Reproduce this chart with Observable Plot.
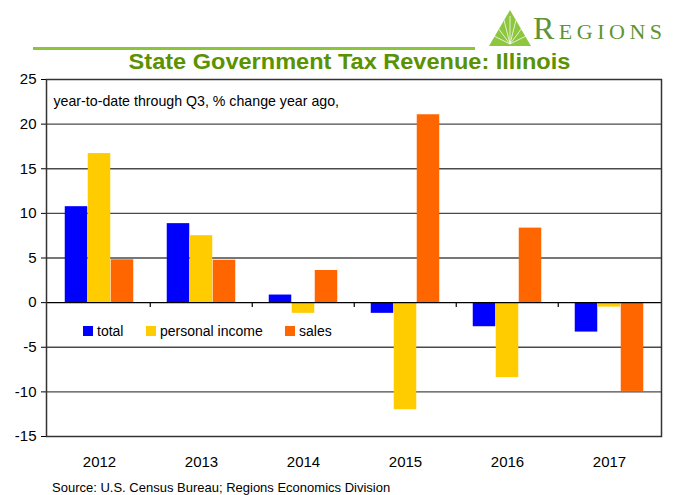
<!DOCTYPE html>
<html>
<head>
<meta charset="utf-8">
<script src="https://cdn.jsdelivr.net/npm/d3@7"></script>
<script src="https://cdn.jsdelivr.net/npm/@observablehq/plot@0.6"></script>
<style>
  html, body { margin: 0; padding: 0; background: #fff; }
  body { width: 681px; height: 495px; position: relative; overflow: hidden; font-family: "Liberation Sans", Arial, sans-serif; }
  .abs { position: absolute; }
  #rule { left: 33px; top: 47px; width: 442px; height: 3px; background: #8cc43c; }
  #logo-text { left: 533px; top: 10px; font-family: "Liberation Serif", serif; font-size: 32px; font-variant: small-caps; color: #5e9435; letter-spacing: 4.5px; line-height: 36px; }
  #title { left: 9px; top: 50px; width: 681px; text-align: center; font-size: 22px; font-weight: bold; color: #5a9200; line-height: 24px; transform: scaleX(1.07); transform-origin: 341px 0; z-index: 2; }
  #chart { left: 0; top: 60px; z-index: 1; }
  #legend { left: 83px; top: 322px; font-size: 14px; color: #000; line-height: 18px; white-space: nowrap; z-index: 3; }
  #legend span.item { position: absolute; top: 0; }
  #legend span.sw { position: absolute; top: 4px; width: 10px; height: 10px; }
  #source { left: 52px; top: 480px; font-size: 13px; color: #000; line-height: 16px; }
</style>
</head>
<body>
<div id="rule" class="abs"></div>
<svg class="abs" style="left:489px;top:10px" width="42" height="36" viewBox="0 0 42 36">
  <polygon points="21,0 42,36 0,36" fill="#8dc63f"/>
  <path d="M21 34 L21 6 M21 34 L15 10 M21 34 L27 10 M21 34 L9 18 M21 34 L33 18 M21 34 L5 26 M21 34 L37 26" stroke="#fff" stroke-width="1" fill="none" opacity="0.75"/>
</svg>
<div id="logo-text" class="abs">Regions</div>
<div id="chart" class="abs"></div>
<div id="title" class="abs">State Government Tax Revenue: Illinois</div>
<div id="legend" class="abs"></div>
<div id="source" class="abs">Source: U.S. Census Bureau; Regions Economics Division</div>
<script>
const years = ["2012", "2013", "2014", "2015", "2016", "2017"];
const seriesNames = ["total", "personal income", "sales"];
const seriesColors = ["#0000ff", "#ffcc00", "#ff6600"];
const totalValues = [10.75, 8.85, 0.85, -1.2, -2.7, -3.3];
const personalIncomeValues = [16.7, 7.5, -1.2, -12.0, -8.4, -0.5];
const salesValues = [4.8, 4.75, 3.6, 21.05, 8.35, -9.95];
const yTicks = [-15, -10, -5, 0, 5, 10, 15, 20, 25];

const W = 681, H = 412, mL = 46, mR = 20, mT = 19, mB = 36;
const bw = (W - mL - mR) / years.length;
const barW = 23;
const gap0 = (bw - 3 * barW) / 2;

const seriesValues = [totalValues, personalIncomeValues, salesValues];
const barMarks = seriesValues.map((vals, i) =>
  Plot.barY(years.map((y, j) => ({year: y, value: vals[j]})), {
    x: "year", y: "value", fill: seriesColors[i],
    insetLeft: gap0 + i * barW,
    insetRight: bw - gap0 - (i + 1) * barW
  })
);

const chart = Plot.plot({
  width: W, height: H,
  marginLeft: mL, marginRight: mR, marginTop: mT, marginBottom: mB,
  style: {fontFamily: "'Liberation Sans', Arial, sans-serif", fontSize: "15px", color: "#000", background: "transparent"},
  x: {type: "band", domain: years, padding: 0, label: null, tickSize: 0, tickPadding: 20},
  y: {domain: [-15, 25], ticks: yTicks, label: null, tickSize: 5, tickPadding: 5, tickFormat: d => String(d)},
  marks: [
    Plot.ruleY(yTicks.filter(d => d !== 0 && d !== 25 && d !== -15), {stroke: "#4a4a4a", strokeWidth: 1.3}),
    ...barMarks,
    Plot.ruleY([0], {stroke: "#000", strokeWidth: 1.3}),
    Plot.ruleX(years.slice(1), {x: d => d, y1: 0, y2: -0.55, dx: -bw / 2, stroke: "#000", strokeWidth: 1.2}),
    Plot.frame({stroke: "#333", strokeWidth: 1.5}),
    Plot.text(["year-to-date through Q3, % change year ago,"], {
      frameAnchor: "top-left", dx: 7, dy: 16, text: d => d,
      fontSize: 14.2, fill: "#000", textAnchor: "start"
    })
  ]
});
document.getElementById("chart").appendChild(chart);

// legend (HTML)
const legendOffsets = [0, 63, 202];
const legend = document.getElementById("legend");
seriesNames.forEach((name, i) => {
  const sw = document.createElement("span");
  sw.className = "sw";
  sw.style.left = legendOffsets[i] + "px";
  sw.style.background = seriesColors[i];
  legend.appendChild(sw);
  const lab = document.createElement("span");
  lab.className = "item";
  lab.style.left = (legendOffsets[i] + 14) + "px";
  lab.textContent = name;
  legend.appendChild(lab);
});
</script>
</body>
</html>
